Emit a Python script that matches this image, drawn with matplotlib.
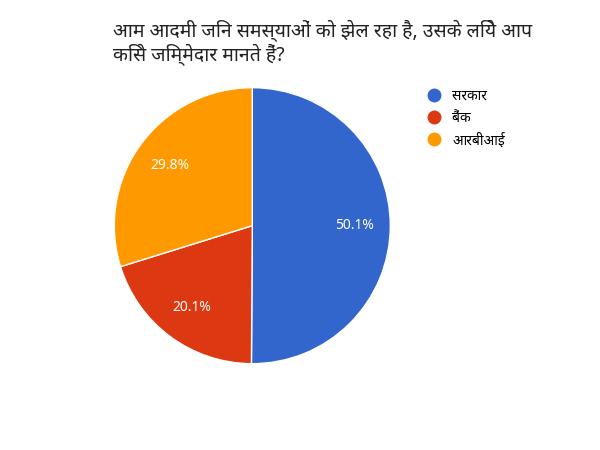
import matplotlib
matplotlib.use("Agg")
import numpy as np
import matplotlib.pyplot as plt
from matplotlib.lines import Line2D

# data
labels = ["सरकार", "बैंक", "आरबीआई"]
values = [50.1, 20.1, 29.8]
colors = ["#3366cc", "#dc3912", "#ff9900"]
title = "आम आदमी जिन समस्याओं को झेल रहा है, उसके लिये आप\nकिसे जिम्मेदार मानते हैं?"

plt.rcParams['font.family'] = ['Noto Sans', 'Noto Sans Devanagari', 'Lohit Devanagari', 'DejaVu Sans']

fig = plt.figure(figsize=(6, 4.5), dpi=100)
ax = fig.add_axes([0.133, 0.115, 0.575, 0.767])
wedges, texts = ax.pie(values, colors=colors, startangle=90, counterclock=False,
                       wedgeprops=dict(edgecolor="white", linewidth=1))
for w, v in zip(wedges, values):
    ang = np.deg2rad((w.theta1 + w.theta2) / 2)
    ax.text(0.74 * np.cos(ang), 0.74 * np.sin(ang), f"{v}%", color="white",
            ha="center", va="center", fontsize=10)
ax.set_aspect("equal")

fig.text(0.188, 0.955, title, fontsize=14, fontweight="bold", ha="left", va="top",
         color="#222222", linespacing=1.1)

handles = [Line2D([], [], marker="o", linestyle="", markersize=9,
                  markerfacecolor=c, markeredgecolor=c) for c in colors]
fig.legend(handles, labels, loc="upper left", bbox_to_anchor=(0.68, 0.83),
           frameon=False, fontsize=10, handletextpad=0.3, labelspacing=0.5)

fig.savefig("out.png", dpi=100)
